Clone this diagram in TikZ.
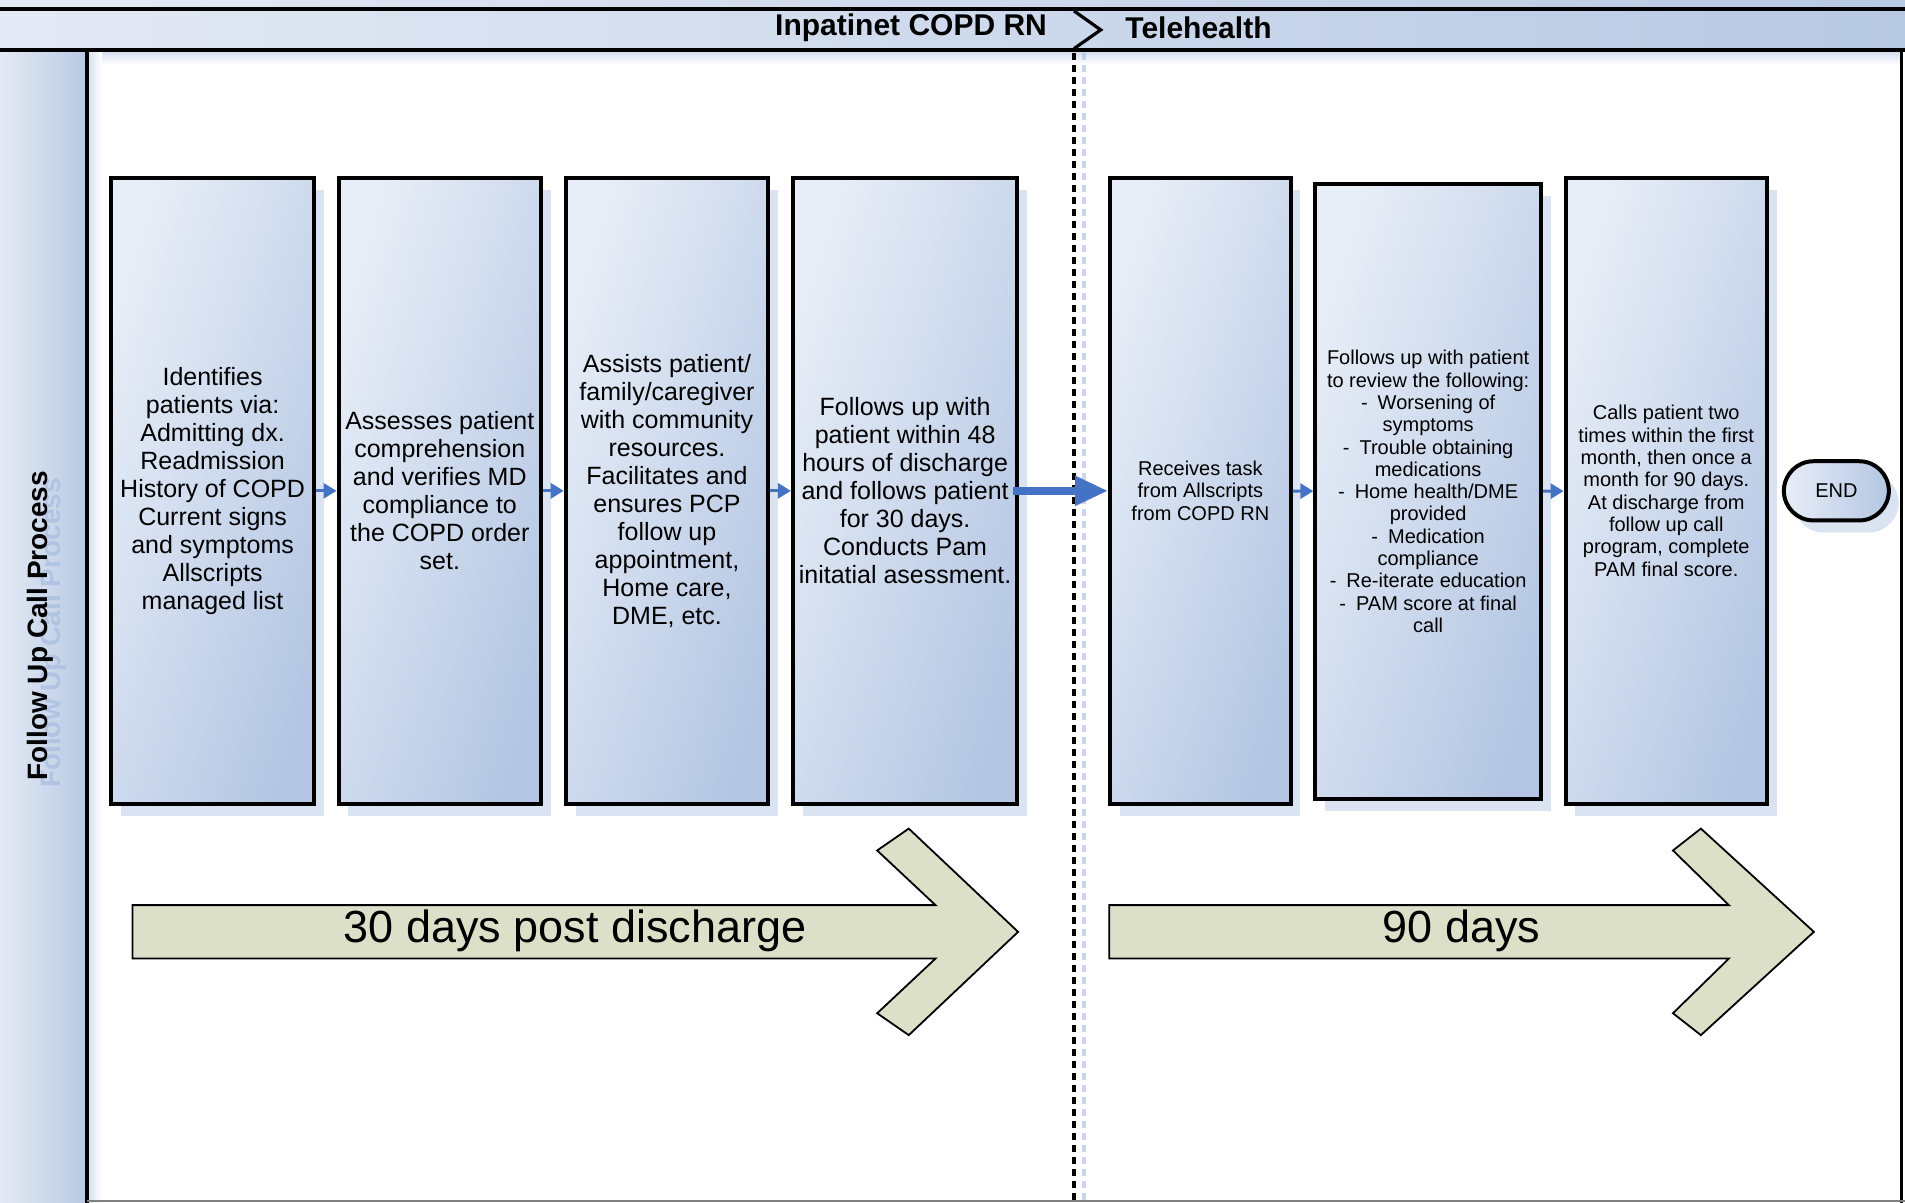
\documentclass[tikz,border=0pt]{standalone}
\usepackage{fontspec}
\setmainfont{Liberation Sans}
\usetikzlibrary{arrows.meta, shapes.misc, shadows, positioning}

\definecolor{laneLight}{RGB}{228,234,245}
\definecolor{laneDark}{RGB}{184,201,227}
\definecolor{boxLight}{RGB}{232,238,247}
\definecolor{boxDark}{RGB}{180,198,227}
\definecolor{shadowBlue}{RGB}{218,227,242}
\definecolor{bodyShade}{RGB}{214,224,241}
\definecolor{ghostBlue}{RGB}{168,188,224}
\definecolor{flowBlue}{RGB}{68,114,196}
\definecolor{spanFill}{RGB}{220,224,201}

\tikzset{
  task/.style={draw=black, line width=2pt, rectangle, align=center,
    left color=boxLight, right color=boxDark, shading angle=72,
    minimum height=312.7pt, inner sep=1pt,
    drop shadow={shadow xshift=4.9pt, shadow yshift=-6pt, fill=shadowBlue, opacity=1},
    font=\fontsize{12.5}{14}\selectfont},
  tasksmall/.style={task, font=\fontsize{10}{11.15}\selectfont},
  endbox/.style={draw=black, line width=2pt, rounded rectangle,
    left color=boxLight, right color=boxDark,
    minimum width=54.5pt, minimum height=29.6pt, inner sep=1pt,
    drop shadow={shadow xshift=4.9pt, shadow yshift=-6pt, fill=shadowBlue, opacity=1},
    font=\fontsize{10}{12}\selectfont},
  flow/.style={flowBlue, line width=1.5pt, -{Triangle[length=6.5pt, width=7.5pt]}},
  bigflow/.style={flowBlue, line width=4pt, -{Triangle[length=16.5pt, width=14pt]}},
  span/.style={draw=black, line width=0.9pt, fill=spanFill, line join=miter},
  spanlabel/.style={font=\fontsize{22.5}{26}\selectfont, inner sep=0pt},
  phase/.style={font=\bfseries\fontsize{15}{18}\selectfont, inner sep=0pt},
  lanelabel/.style={font=\bfseries\fontsize{14}{17}\selectfont, rotate=90, inner sep=0pt},
}

\begin{document}
\begin{tikzpicture}[x=0.6075pt, y=-0.6075pt]
  \useasboundingbox (0,0) rectangle (1568,990);

  % Coordinates
  \coordinate (sepTop) at (884,9);
  \coordinate (sepTip) at (906,24.6);
  \coordinate (sepBot) at (884,40);
  \coordinate (sepStart) at (884,44);
  \coordinate (sepEnd) at (884,990);

  \coordinate (A1) at (109,745);
  \coordinate (A2) at (770,745);
  \coordinate (A3) at (722,700);
  \coordinate (A4) at (748,682);
  \coordinate (A5) at (838,767);
  \coordinate (A6) at (748,852);
  \coordinate (A7) at (722,834);
  \coordinate (A8) at (770,789);
  \coordinate (A9) at (109,789);

  \coordinate (B1) at (913,745);
  \coordinate (B2) at (1423,745);
  \coordinate (B3) at (1377,700);
  \coordinate (B4) at (1400,682);
  \coordinate (B5) at (1493,767);
  \coordinate (B6) at (1400,852);
  \coordinate (B7) at (1377,834);
  \coordinate (B8) at (1423,789);
  \coordinate (B9) at (913,789);

  % Lane frame
  \fill[left color=laneLight, right color=laneDark] (0,0) rectangle (1568,43);
  \fill[left color=laneLight, right color=laneDark] (0,43) rectangle (72,990);
  \fill[white] (72,43) rectangle (1568,990);
  \fill[top color=bodyShade, bottom color=white] (72,43) rectangle (1565,53);
  \fill[left color=bodyShade, right color=white] (72,43) rectangle (84,990);
  \draw[line width=2pt] (0,7.5) -- (1568,7.5);
  \draw[line width=2pt] (0,41.5) -- (1568,41.5);
  \draw[line width=2pt] (72,41.5) -- (72,990);
  \draw[line width=1.2pt] (1565,41.5) -- (1565,990);
  \draw[gray, line width=1pt] (72,988.5) -- (1568,988.5);

  % Lane and phase titles
  \node[lanelabel, text=ghostBlue, opacity=0.7] (laneghost) at (44,521) {Follow Up Call Process};
  \node[lanelabel] (lane) at (33,515) {Follow Up Call Process};
  \node[phase, anchor=east] (inpatient) at (862,23) {Inpatinet COPD RN};
  \node[phase, anchor=west] (tele) at (926,23) {Telehealth};

  % Phase separator
  \draw[line width=1.6pt] (sepTop) -- (sepTip) -- (sepBot);
  \draw[ghostBlue, opacity=0.6, line width=1.8pt, dash pattern=on 3.5pt off 2.5pt] ([xshift=5pt]sepStart) -- ([xshift=5pt]sepEnd);
  \draw[line width=1.8pt, dash pattern=on 3.5pt off 2.5pt] (sepStart) -- (sepEnd);

  % Tasks
  \node[task, minimum width=101.3pt] (b1) at (175,404)
    {Identifies\\patients via:\\Admitting dx.\\Readmission\\History of COPD\\Current signs\\and symptoms\\Allscripts\\managed list};
  \node[task, minimum width=101.3pt] (b2) at (362,404)
    {Assesses patient\\comprehension\\and verifies MD\\compliance to\\the COPD order\\set.};
  \node[task, minimum width=101.3pt] (b3) at (549,404)
    {Assists patient/\\family/caregiver\\with community\\resources.\\Facilitates and\\ensures PCP\\follow up\\appointment,\\Home care,\\DME, etc.};
  \node[task, minimum width=112.2pt] (b4) at (745,404)
    {Follows up with\\patient within 48\\hours of discharge\\and follows patient\\for 30 days.\\Conducts Pam\\initatial asessment.};
  \node[tasksmall, minimum width=90.3pt] (b5) at (988,404)
    {Receives task\\from Allscripts\\from COPD RN};
  \node[tasksmall, minimum width=112.8pt, minimum height=307.2pt] (b6) at (1175.5,404.5)
    {Follows up with patient\\to review the following:\\-\enspace Worsening of\\symptoms\\-\enspace Trouble obtaining\\medications\\-\enspace Home health/DME\\provided\\-\enspace Medication\\compliance\\-\enspace Re-iterate education\\-\enspace PAM score at final\\call};
  \node[tasksmall, minimum width=100.7pt] (b7) at (1371.5,404)
    {Calls patient two\\times within the first\\month, then once a\\month for 90 days.\\At discharge from\\follow up call\\program, complete\\PAM final score.};
  \node[endbox] (end) at (1511.5,404) {END};

  % Flow
  \draw[flow] (b1) -- (b2);
  \draw[flow] (b2) -- (b3);
  \draw[flow] (b3) -- (b4);
  \draw[bigflow] ([xshift=-3pt]b4.east) -- (b5.west);
  \draw[flow] (b5) -- (b6);
  \draw[flow] (b6) -- (b7);

  % Time spans
  \draw[span] (A1) -- (A2) -- (A3) -- (A4) -- (A5) -- (A6) -- (A7) -- (A8) -- (A9) -- cycle;
  \node[spanlabel] (span30) at (473.5,766) {30 days post discharge};
  \draw[span] (B1) -- (B2) -- (B3) -- (B4) -- (B5) -- (B6) -- (B7) -- (B8) -- (B9) -- cycle;
  \node[spanlabel] (span90) at (1203,766) {90 days};
\end{tikzpicture}
\end{document}
